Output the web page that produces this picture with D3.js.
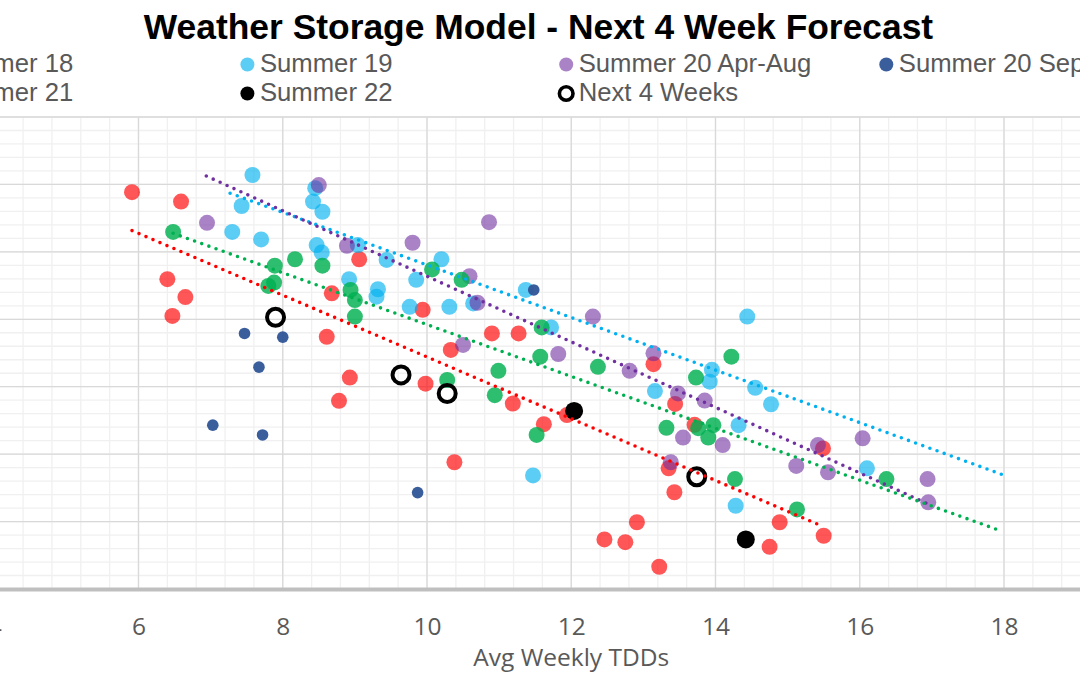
<!DOCTYPE html>
<html>
<head>
<meta charset="utf-8">
<script src="https://cdn.jsdelivr.net/npm/d3@7"></script>
<style>
  html, body { margin: 0; padding: 0; background: #fff; overflow: hidden; }
  svg { display: block; }
</style>
</head>
<body>
<svg id="chart" width="1080" height="675"></svg>
<script>
// ---------------- DATA ----------------
const chartTitle = "Weather Storage Model - Next 4 Week Forecast";
const xAxisTitle = "Avg Weekly TDDs";
const xTickValues = [4, 6, 8, 10, 12, 14, 16, 18, 20];
const seriesNames = ["Summer 18", "Summer 19", "Summer 20 Apr-Aug", "Summer 20 Sep-Oct", "Summer 21", "Summer 22", "Next 4 Weeks"];

const summer18 = [
  [5.91,117.7],[6.59,114.9],[6.40,91.9],[6.65,86.6],[6.47,81.0],[8.68,87.7],[8.61,74.8],[8.93,62.7],
  [8.78,55.8],[9.06,97.8],[9.94,82.8],[10.33,70.9],[9.98,60.9],[10.90,75.8],[11.27,75.8],[11.19,55.0],
  [11.62,48.9],[11.94,51.6],[10.38,37.6],[13.14,66.7],[13.44,54.9],[13.35,35.8],[13.43,28.7],[12.91,19.8],
  [12.46,14.7],[12.75,13.9],[13.22,6.6],[13.71,48.7],[14.89,19.8],[14.75,12.5],[15.50,15.8],[15.49,41.7]
];
const summer19 = [
  [7.58,122.8],[7.43,113.6],[7.30,105.9],[7.70,103.7],[8.42,114.9],[8.45,118.9],[8.55,111.9],[8.47,102.0],
  [8.54,99.8],[8.92,91.9],[9.04,102.0],[9.44,97.6],[9.32,88.9],[9.30,86.7],[9.76,83.7],[10.20,97.8],
  [9.85,91.7],[10.31,83.7],[10.64,84.7],[11.37,88.7],[11.72,77.6],[11.47,33.7],[13.16,58.7],[13.95,65.0],
  [13.92,61.5],[14.55,59.7],[14.77,54.8],[14.32,48.6],[14.28,24.7],[16.10,35.8],[14.44,80.8]
];
const summer20AprAug = [
  [6.95,108.6],[8.50,119.8],[8.89,101.8],[9.80,102.7],[10.86,108.8],[10.59,92.8],[10.70,84.9],[12.30,80.8],
  [10.50,72.4],[11.82,69.7],[13.14,69.9],[12.81,64.7],[13.48,58.0],[13.85,55.9],[13.55,44.9],[13.38,37.6],
  [14.10,42.7],[15.12,36.5],[15.42,42.7],[15.56,34.6],[16.04,44.7],[16.94,32.6],[16.95,25.7]
];
const summer20SepOct = [
  [7.47,75.8],[8.00,74.7],[7.67,65.8],[7.03,48.6],[7.72,45.7],[9.87,28.6],[11.48,88.7]
];
const summer21 = [
  [6.48,105.9],[8.17,97.8],[7.89,95.9],[8.55,95.9],[7.88,90.9],[7.80,89.9],[8.94,88.7],[9.00,85.7],
  [9.00,80.8],[10.07,94.8],[10.48,91.7],[11.59,77.6],[11.57,68.9],[12.37,65.9],[10.99,64.7],[10.28,62.0],
  [10.94,57.5],[11.52,45.7],[13.32,47.8],[13.73,62.7],[13.76,47.7],[13.97,48.6],[13.90,44.9],[14.22,68.9],
  [14.27,32.6],[15.13,23.6],[16.37,32.6]
];
const summer22 = [[12.04,52.8],[14.42,14.7]];
const next4Weeks = [[7.90,80.6],[9.64,63.5],[10.28,58.0],[13.74,33.3]];

// linear trendlines: [x start, y start, x end, y end]
const trendSummer18 = [5.91, 106.3, 15.44, 19.0];
const trendSummer19 = [7.27, 117.4, 18.02, 33.6];
const trendSummer20AprAug = [6.94, 122.5, 16.96, 25.1];
const trendSummer21 = [6.48, 105.5, 17.95, 17.3];

// ---------------- STYLE ----------------
const fillColors = ["#ff0000", "#00b0f0", "#7030a0", "#2f5597", "#00b050", "#000000", "none"];
const fillOpacity = [0.66, 0.64, 0.6, 0.95, 0.82, 1, 1];
const trendColors = ["#ff0000", "#00b0f0", "#7030a0", null, "#00b050", null, null];
const radius = [8, 8, 8, 5.8, 8, 9, 8.5];
const seriesData = [summer18, summer19, summer20AprAug, summer20SepOct, summer21, summer22, next4Weeks];
const trendData = [trendSummer18, trendSummer19, trendSummer20AprAug, null, trendSummer21, null, null];

const svg = d3.select("#chart");

// scales (plot area extends past the picture edge on both sides)
const x = d3.scaleLinear().domain([4, 20]).range([-5.75, 1148.25]);
const y = d3.scaleLinear().domain([0, 140]).range([589, 117]);

// ---------------- GRID ----------------
const grid = svg.append("g");
const minorX = d3.range(4, 20.001, 0.4), minorY = d3.range(0, 140.001, 4);
const majorX = d3.range(4, 20.001, 2), majorY = d3.range(0, 140.001, 20);
grid.selectAll(".mx").data(minorX).join("line")
  .attr("x1", d => x(d)).attr("x2", d => x(d)).attr("y1", y(140)).attr("y2", y(0))
  .attr("stroke", "#f0f0f0").attr("stroke-width", 1.3);
grid.selectAll(".my").data(minorY).join("line")
  .attr("x1", x(4)).attr("x2", x(20)).attr("y1", d => y(d)).attr("y2", d => y(d))
  .attr("stroke", "#f0f0f0").attr("stroke-width", 1.3);
grid.selectAll(".Mx").data(majorX).join("line")
  .attr("x1", d => x(d)).attr("x2", d => x(d)).attr("y1", y(140)).attr("y2", y(0))
  .attr("stroke", "#d9d9d9").attr("stroke-width", 1.3);
grid.selectAll(".My").data(majorY).join("line")
  .attr("x1", x(4)).attr("x2", x(20)).attr("y1", d => y(d)).attr("y2", d => y(d))
  .attr("stroke", "#d9d9d9").attr("stroke-width", 1.3);

// x axis
const xAxis = svg.append("g").attr("transform", `translate(0,${y(0)})`)
  .call(d3.axisBottom(x).tickValues(xTickValues).tickSize(0).tickPadding(29).tickFormat(d3.format("d")));
xAxis.select(".domain").attr("stroke", "#bfbfbf").attr("stroke-width", 4);
xAxis.selectAll("text").attr("font-family", "'Open Sans', sans-serif").attr("font-size", 24.5)
  .attr("fill", "#595959");

svg.append("text").attr("x", x(12)).attr("y", 666).attr("text-anchor", "middle")
  .attr("font-family", "'Open Sans', sans-serif").attr("font-size", 24.5).attr("fill", "#595959")
  .text(xAxisTitle);

// ---------------- POINTS ----------------
const pts = svg.append("g");
seriesData.forEach((data, i) => {
  const g = pts.append("g");
  const c = g.selectAll("circle").data(data).join("circle")
    .attr("cx", d => x(d[0])).attr("cy", d => y(d[1])).attr("r", radius[i]);
  if (i === 6) {
    c.attr("fill", "none").attr("stroke", "#000").attr("stroke-width", 4);
  } else {
    c.attr("fill", fillColors[i]).attr("fill-opacity", fillOpacity[i]);
  }
});

// ---------------- TRENDLINES ----------------
const trends = svg.append("g");
const trendLine = d3.line().x(d => x(d[0])).y(d => y(d[1]));
trendData.forEach((t, i) => {
  if (!t) return;
  trends.append("path").datum([[t[0], t[1]], [t[2], t[3]]]).attr("d", trendLine)
    .attr("fill", "none").attr("stroke", trendColors[i]).attr("stroke-width", 3.6)
    .attr("stroke-linecap", "round").attr("stroke-dasharray", "0 7.6");
});

// ---------------- TITLE ----------------
svg.append("text").attr("x", 538.5).attr("y", 39).attr("text-anchor", "middle")
  .attr("font-family", "'Liberation Sans', Arial, sans-serif").attr("font-weight", "bold")
  .attr("font-size", 35.4).attr("fill", "#000").text(chartTitle);

// ---------------- LEGEND ----------------
const legendCols = [-72, 247.4, 566.2, 886.3];
const legendRows = [64.5, 93.5];
const legend = svg.append("g");
seriesNames.forEach((name, i) => {
  const col = i < 4 ? i : i - 4;
  const row = i < 4 ? 0 : 1;
  const cx = legendCols[col], cy = legendRows[row];
  const g = legend.append("g");
  const m = g.append("circle").attr("cx", cx).attr("cy", cy);
  if (i === 6) {
    m.attr("r", 6.8).attr("fill", "none").attr("stroke", "#000").attr("stroke-width", 3.6);
  } else {
    m.attr("r", 7).attr("fill", fillColors[i]).attr("fill-opacity", fillOpacity[i]);
  }
  g.append("text").attr("x", cx + 12.5).attr("y", cy + 7.8)
    .attr("font-family", "'Liberation Sans', Arial, sans-serif").attr("font-size", 25.7)
    .attr("fill", "#595959").text(name);
});
</script>
</body>
</html>
